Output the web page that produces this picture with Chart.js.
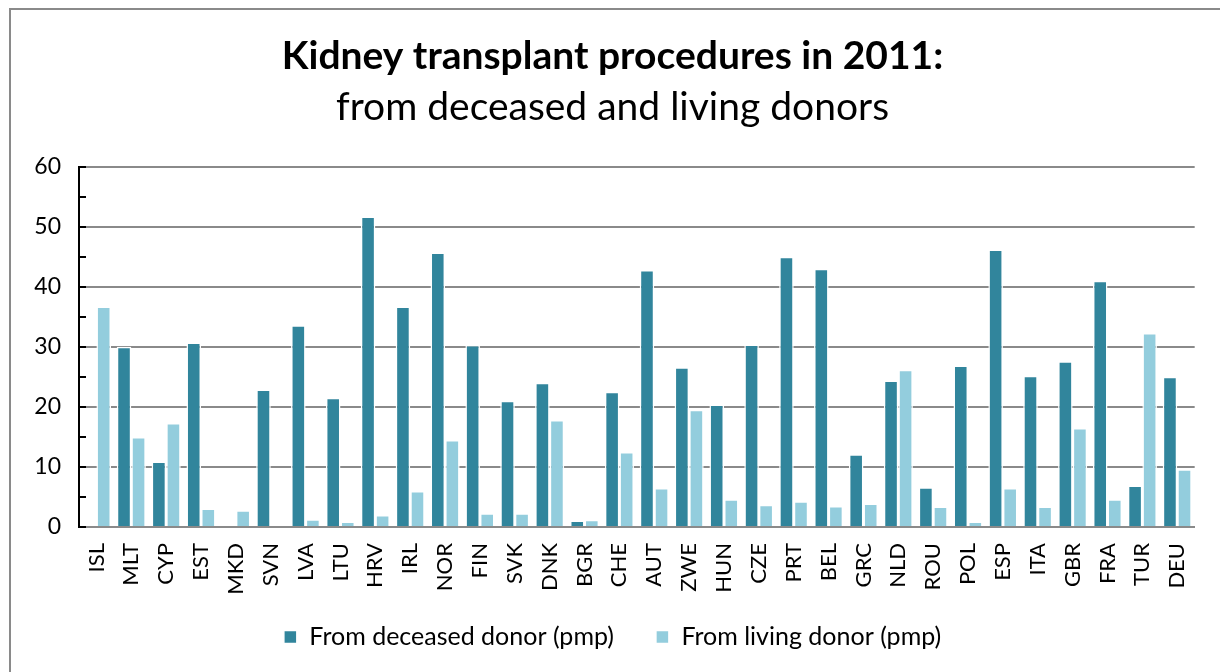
<!DOCTYPE html>
<html><head><meta charset="utf-8">
<script src="https://cdn.jsdelivr.net/npm/chart.js@4/dist/chart.umd.min.js"></script>
<style>
html,body{margin:0;padding:0;overflow:hidden;background:#fff;width:1220px;height:672px}
#frame{position:absolute;left:9px;top:8px;width:1230px;height:700px;border-left:2px solid #8a8a8a;border-top:2px solid #8a8a8a;}
#wrap{position:absolute;left:0;top:0;width:1220px;height:672px}
</style></head>
<body>
<div id="frame"></div>
<div id="wrap"><canvas id="c" width="1220" height="672"></canvas></div>
<script>
const categories = ['ISL','MLT','CYP','EST','MKD','SVN','LVA','LTU','HRV','IRL','NOR','FIN','SVK','DNK','BGR','CHE','AUT','ZWE','HUN','CZE','PRT','BEL','GRC','NLD','ROU','POL','ESP','ITA','GBR','FRA','TUR','DEU'];
const deceased = [0,30.0,10.9,30.7,0,22.9,33.6,21.5,51.7,36.7,45.7,30.3,21.0,24.0,1.1,22.5,42.8,26.6,20.4,30.4,45.0,43.0,12.1,24.4,6.6,26.9,46.2,25.2,27.6,41.0,6.9,25.0];
const living = [36.7,15.0,17.3,3.1,2.8,0,1.3,0.9,2.0,6.0,14.5,2.3,2.3,17.8,1.2,12.5,6.5,19.5,4.6,3.7,4.3,3.5,3.9,26.2,3.4,0.9,6.5,3.4,16.5,4.6,32.3,9.6];
const yTicks = [0,10,20,30,40,50,60];
const minorStep = 5;

const FONT = 'Lato, "Open Sans", sans-serif';

const minorTicks = {
  id: 'minorTicks',
  afterDraw(chart) {
    const y = chart.scales.y;
    const ctx = chart.ctx;
    ctx.save();
    ctx.strokeStyle = '#000';
    ctx.lineWidth = 2;
    for (let v = y.min; v <= y.max; v += minorStep) {
      const py = Math.round(y.getPixelForValue(v));
      ctx.beginPath();
      ctx.moveTo(y.right - 1, py);
      ctx.lineTo(y.right + 7, py);
      ctx.stroke();
    }
    ctx.restore();
  }
};

new Chart(document.getElementById('c'), {
  type: 'bar',
  data: {
    labels: categories,
    datasets: [
      { label: 'From deceased donor (pmp)', data: deceased, backgroundColor: '#31859C', borderColor: '#ffffff', borderWidth: 1.5, categoryPercentage: 0.835, barPercentage: 1.0 },
      { label: 'From living donor (pmp)', data: living, backgroundColor: '#93CDDD', borderColor: '#ffffff', borderWidth: 1.5, categoryPercentage: 0.835, barPercentage: 1.0 }
    ]
  },
  options: {
    responsive: false,
    animation: false,
    layout: { padding: { left: 28, right: 23, top: 0, bottom: 12.5 } },
    plugins: {
      title: {
        display: true,
        text: 'Kidney transplant procedures in 2011:',
        color: '#000',
        font: { family: FONT, size: 39, weight: 'bold' },
        padding: { top: 33, bottom: 0 }
      },
      subtitle: {
        display: true,
        text: 'from deceased and living donors',
        color: '#000',
        font: { family: FONT, size: 39, weight: 'normal' },
        padding: { top: 4, bottom: 36 }
      },
      legend: {
        position: 'bottom',
        title: { display: true, text: '', font: { size: 1, lineHeight: 1.2 }, padding: { top: -13.7, bottom: 0 } },
        labels: {
          color: '#000',
          font: { family: FONT, size: 25 },
          boxWidth: 13, boxHeight: 13,
          padding: 42
        }
      },
      tooltip: { enabled: false }
    },
    scales: {
      x: {
        afterFit(scale) { scale.height = 68; },
        grid: { display: false, drawTicks: false },
        border: { display: true, color: '#8a8a8a', width: 2 },
        ticks: { color: '#000', font: { family: FONT, size: 22 }, maxRotation: 90, minRotation: 90, padding: 16, autoSkip: false }
      },
      y: {
        min: 0, max: 60,
        afterFit(scale) { scale.width = 51; },
        afterBuildTicks(scale) { scale.ticks = yTicks.map(v => ({ value: v })); },
        grid: { color: '#8a8a8a', lineWidth: 2, drawTicks: false },
        border: { display: true, color: '#000', width: 2 },
        ticks: { color: '#000', font: { family: FONT, size: 23 }, padding: 18 }
      }
    }
  },
  plugins: [minorTicks]
});
</script>
</body></html>
